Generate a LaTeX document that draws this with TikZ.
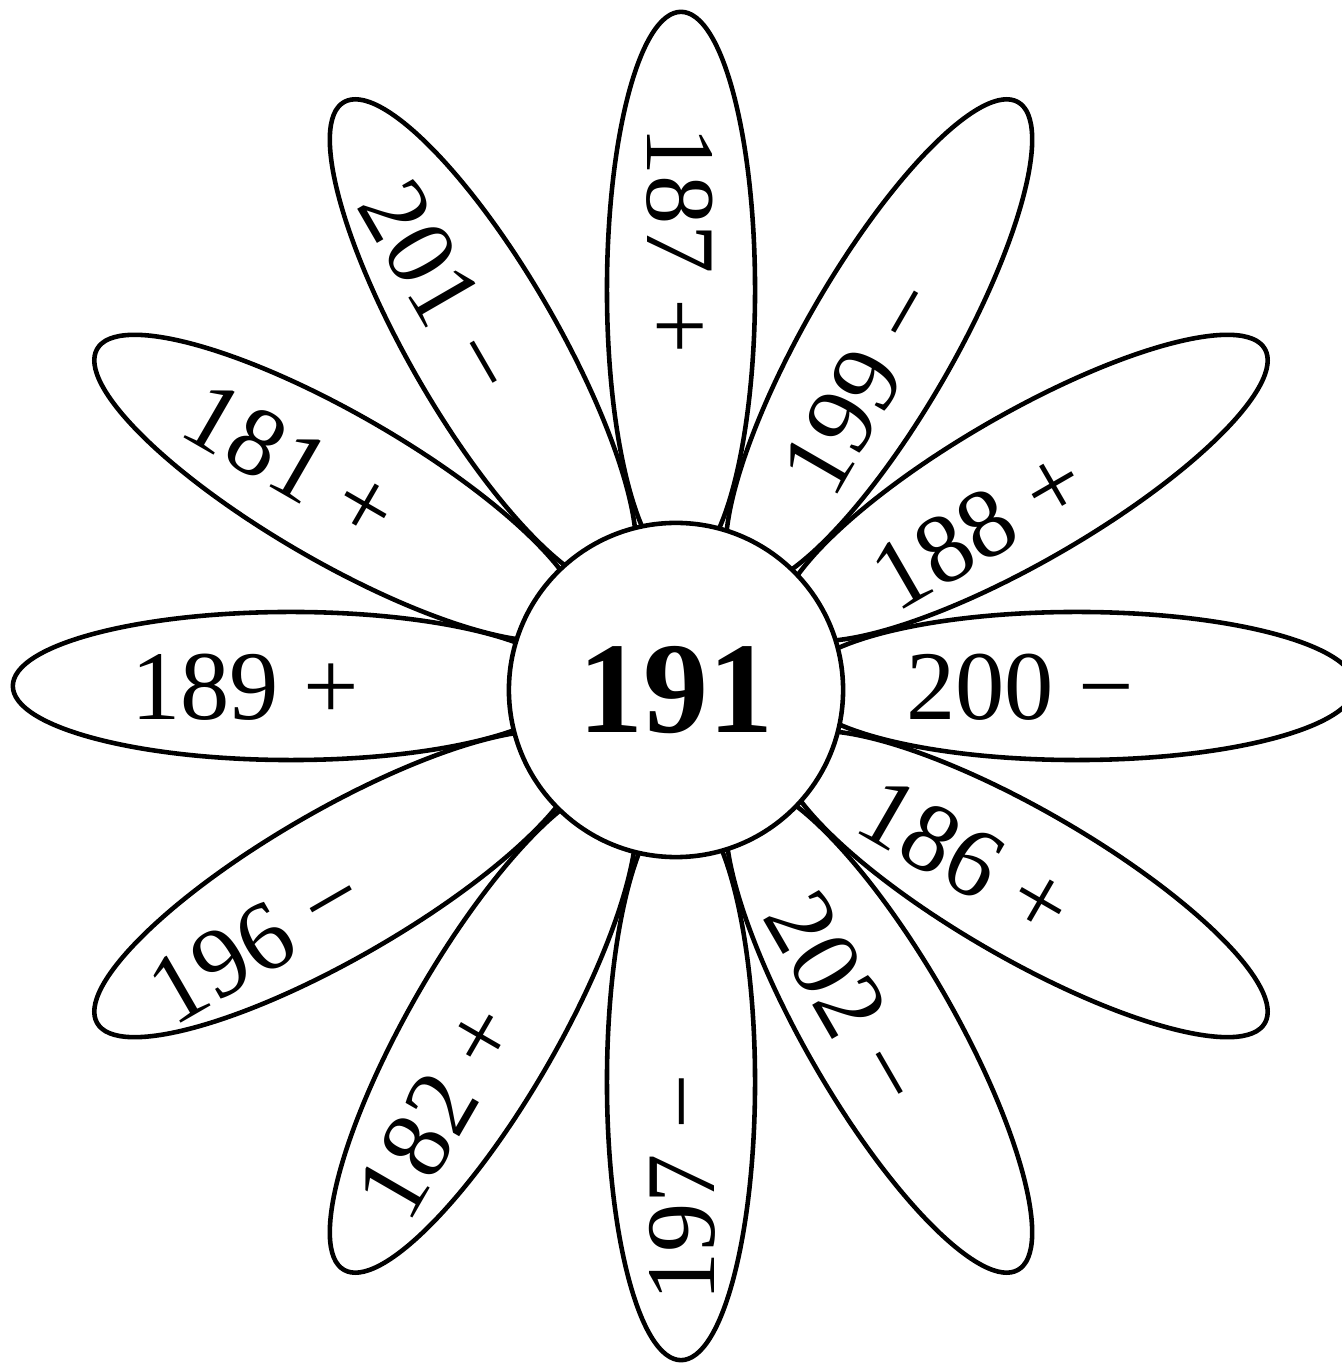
\documentclass[tikz,border=0pt]{standalone}
\usepackage{fontspec}
\setmainfont{Liberation Serif}
\usetikzlibrary{shapes.geometric}
\tikzset{
  petal/.style={ellipse, draw, line width=1.3pt, minimum width=5.56cm, minimum height=1.48cm, inner sep=0pt},
  petaltext/.style={inner sep=0pt, text height=0.67cm, text depth=0cm, font=\fontsize{28}{30}\selectfont},
  heart/.style={circle, draw, fill=white, line width=1.3pt, minimum size=3.34cm, inner sep=0pt, font=\bfseries\fontsize{37}{40}\selectfont}
}
\begin{document}
\begin{tikzpicture}[x=0.01cm, y=0.01cm]
    \useasboundingbox (-681,-678) rectangle (660,686);
    % Petals
    \node[petal, rotate=90] (p90) at (90:396) {};
    \node[petal, rotate=60] (p60) at (60:396) {};
    \node[petal, rotate=30] (p30) at (30:396) {};
    \node[petal, rotate=0] (p0) at (0:396) {};
    \node[petal, rotate=-30] (pm30) at (-30:396) {};
    \node[petal, rotate=-60] (pm60) at (-60:396) {};
    \node[petal, rotate=-90] (pm90) at (-90:396) {};
    \node[petal, rotate=-120] (pm120) at (-120:396) {};
    \node[petal, rotate=-150] (pm150) at (-150:396) {};
    \node[petal, rotate=180] (p180) at (180:390) {};
    \node[petal, rotate=150] (p150) at (150:396) {};
    \node[petal, rotate=120] (p120) at (120:396) {};
    % Centre of the flower
    \node[heart] (centre) at (-5,-4) {191};
    % Numbers on the petals
    \node[petaltext, rotate=-90] (t90) at (90:446) {187 +};
    \node[petaltext, rotate=60] (t60) at (59:350) {199 −};
    \node[petaltext, rotate=30] (t30) at (28:337) {188 +};
    \node[petaltext] (t0) at (0:339) {200 −};
    \node[petaltext, rotate=-30] (tm30) at (-31:333) {186 +};
    \node[petaltext, rotate=-60] (tm60) at (-62:354) {202 −};
    \node[petaltext, rotate=90] (tm90) at (-90:502) {197 −};
    \node[petaltext, rotate=60] (tm120) at (-120:490) {182 +};
    \node[petaltext, rotate=30] (tm150) at (-149:496) {196 −};
    \node[petaltext] (t180) at (180:436) {189 +};
    \node[petaltext, rotate=-30] (t150) at (150:449) {181 +};
    \node[petaltext, rotate=-60] (t120) at (121:465) {201 −};
\end{tikzpicture}
\end{document}
